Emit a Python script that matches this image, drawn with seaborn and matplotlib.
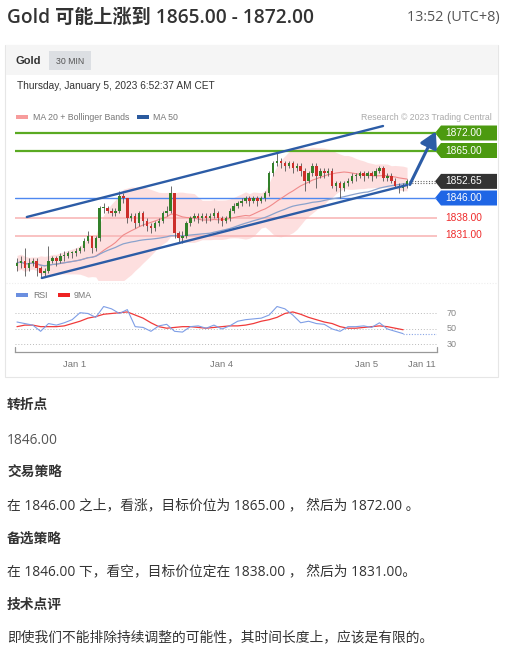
import numpy as np
import pandas as pd
import seaborn as sns
import matplotlib.pyplot as plt
from matplotlib.patches import Rectangle, Polygon
from matplotlib.transforms import blended_transform_factory

# ---------------- data ----------------
closes = [1820, 1821, 1818, 1820, 1821, 1818, 1816, 1817, 1821, 1822,
          1821, 1823, 1823, 1824, 1824, 1825, 1826, 1829, 1831, 1826,
          1830, 1842, 1842, 1841, 1840, 1841, 1847, 1846, 1838, 1839,
          1836, 1840, 1837, 1835, 1834, 1836, 1837, 1840, 1841, 1848,
          1832, 1830, 1831, 1836, 1838, 1839, 1838, 1839, 1838, 1839,
          1840, 1838, 1837, 1838, 1841, 1843, 1844, 1845, 1846, 1845,
          1846, 1845, 1846, 1848, 1856, 1860, 1861, 1860, 1859, 1860,
          1858, 1859, 1857, 1853, 1856, 1859, 1855, 1857, 1856, 1857,
          1851, 1852, 1850, 1852, 1853, 1855, 1855, 1856, 1855, 1856,
          1855, 1857, 1858, 1854, 1855, 1853, 1851, 1850, 1851, 1852.65]
first_open = 1819
highs = [1822, 1823, 1826, 1822, 1822, 1822, 1819, 1818, 1827, 1823,
         1823, 1824, 1825, 1825, 1825, 1826, 1827, 1830, 1833, 1831,
         1831, 1843, 1844, 1843, 1842, 1842, 1849, 1848, 1846, 1840,
         1840, 1841, 1841, 1838, 1836, 1837, 1838, 1841, 1843, 1851,
         1848, 1833, 1833, 1837, 1839, 1840, 1840, 1840, 1840, 1840,
         1842, 1841, 1839, 1839, 1842, 1844, 1845, 1846, 1847, 1847,
         1847, 1847, 1847, 1849, 1857, 1861, 1864, 1862, 1861, 1861,
         1861, 1860, 1860, 1858, 1857, 1860, 1860, 1858, 1858, 1858,
         1858, 1853, 1853, 1853, 1854, 1856, 1856, 1857, 1857, 1857,
         1857, 1858, 1859, 1859, 1856, 1856, 1854, 1852, 1852, 1853.5]
lows = [1817, 1818, 1815, 1817, 1819, 1815, 1814, 1815, 1816, 1820,
        1819, 1820, 1821, 1822, 1822, 1823, 1824, 1825, 1828, 1824,
        1825, 1829, 1840, 1840, 1839, 1839, 1840, 1844, 1836, 1837,
        1834, 1835, 1835, 1833, 1832, 1833, 1835, 1836, 1839, 1840,
        1830, 1828, 1828, 1830, 1835, 1837, 1836, 1837, 1836, 1837,
        1838, 1836, 1835, 1836, 1837, 1840, 1842, 1843, 1844, 1843,
        1844, 1843, 1844, 1845, 1847, 1855, 1859, 1858, 1857, 1858,
        1856, 1857, 1855, 1849, 1852, 1855, 1850, 1854, 1854, 1855,
        1850, 1849, 1846, 1849, 1851, 1852, 1853, 1854, 1853, 1854,
        1853, 1854, 1856, 1853, 1853, 1852, 1850, 1848, 1849, 1850]

rsi = [59, 57, 55, 47, 57, 55, 58, 62, 71, 70,
       65, 79, 76, 70, 75, 53, 52, 47, 54, 56,
       47, 46, 53, 54, 51, 55, 50, 54, 60, 62,
       63, 64, 68, 79, 76, 68, 58, 60, 57, 56,
       50, 47, 53, 53, 54, 52, 58, 50, 47, 44]
rsi_ma9 = [53, 55, 55, 53, 53, 53, 54, 57, 60, 64,
           66, 69, 70, 71, 72, 68, 64, 58, 53, 51,
           52, 53, 53, 52, 51, 52, 53, 54, 54, 55,
           57, 60, 62, 65, 70, 72, 69, 65, 62, 59,
           57, 53, 51, 51, 52, 53, 54, 53, 51, 49]

levels_green = [1872.00, 1865.00]
level_pivot = 1846.00
levels_red = [1838.00, 1831.00]
channel_upper = [(2.5, 1838.4), (92.9, 1874.8)]
channel_lower = [(6.3, 1814.0), (99.0, 1851.2)]
arrow_from = (99.7, 1851.4)
arrow_to = (106.3, 1872.6)

date_labels = ["Jan 1", "Jan 4", "Jan 5", "Jan 11"]
date_pos = [14.7, 52.0, 88.6, 102.8]
rsi_levels = [70, 50, 30]

df = pd.DataFrame({"close": closes, "high": highs, "low": lows})
df["open"] = [first_open] + closes[:-1]
df["idx"] = np.arange(len(df))
df["ma20"] = df["close"].rolling(20, min_periods=1).mean()
df["ma50"] = df["close"].rolling(50, min_periods=1).mean()
sd = df["close"].rolling(20, min_periods=3).std().bfill()
df["bb_up"] = df["ma20"] + 2 * sd
df["bb_lo"] = df["ma20"] - 2 * sd

rsi_df = pd.DataFrame({"idx": np.arange(0, len(df), 2), "rsi": rsi, "ma9": rsi_ma9})

# ---------------- figure ----------------
sns.set_theme(style="white")
plt.rcParams["font.family"] = ["Open Sans", "Noto Sans CJK SC", "DejaVu Sans"]

W, H = 519, 658
fig = plt.figure(figsize=(W / 100, H / 100), dpi=100)
fig.patch.set_facecolor("white")


def fx(px):
    return px / W


def fy(py):
    return 1 - py / H


def box(x0, y0, x1, y1, **kw):
    fig.patches.append(Rectangle((fx(x0), fy(y1)), fx(x1) - fx(x0), fy(y0) - fy(y1),
                                 transform=fig.transFigure, **kw))


# card
box(5, 45, 498, 377, facecolor="white", edgecolor="#e6e6e6", lw=0.8, zorder=0)
box(5.5, 45.5, 497.5, 75, facecolor="#f5f5f5", edgecolor="none", zorder=0)
box(49, 51, 91, 70, facecolor="#dcdfe3", edgecolor="none", zorder=1)

fig.text(fx(7), fy(18), "Gold 可能上涨到 1865.00 - 1872.00", fontsize=13.8,
         weight="semibold", color="#333333", va="center", ha="left")
fig.text(fx(500), fy(18), "13:52 (UTC+8)", fontsize=10.4, color="#555555",
         va="center", ha="right")
fig.text(fx(16), fy(61), "Gold", fontsize=8, weight="bold", color="#333333",
         va="center", family="Liberation Sans")
fig.text(fx(70), fy(61), "30 MIN", fontsize=6.3, color="#555555", va="center",
         ha="center", family="Liberation Sans")
fig.text(fx(17), fy(86), "Thursday, January 5, 2023 6:52:37 AM CET", fontsize=7.3,
         color="#333333", va="center", family="Liberation Sans")

# legends
box(16, 115, 28, 119, facecolor="#f79c9c", edgecolor="none", zorder=2)
fig.text(fx(33), fy(117), "MA 20 + Bollinger Bands", fontsize=6.3, color="#777777",
         va="center", family="Liberation Sans")
box(137, 115, 149, 119, facecolor="#2b5a9e", edgecolor="none", zorder=2)
fig.text(fx(153), fy(117), "MA 50", fontsize=6.3, color="#777777", va="center",
         family="Liberation Sans")
fig.text(fx(492), fy(117), "Research © 2023 Trading Central", fontsize=6.3,
         color="#aaaaaa", va="center", ha="right", family="Liberation Sans")
box(16, 293, 28, 297, facecolor="#6b8fe0", edgecolor="none", zorder=2)
fig.text(fx(33), fy(295), "RSI", fontsize=6.3, color="#777777", va="center",
         family="Liberation Sans")
box(58, 293, 70, 297, facecolor="#ee2222", edgecolor="none", zorder=2)
fig.text(fx(74), fy(295), "9MA", fontsize=6.3, color="#777777", va="center",
         family="Liberation Sans")

# ---------------- price panel ----------------
ax = fig.add_axes([fx(15), fy(280), fx(437) - fx(15), fy(120) - fy(280)])
ax.set_zorder(5)
ax.set_facecolor("none")
ax.set_xlim(-0.5, 106.6)
ax.set_ylim(1813.2, 1877.2)
ax.axis("off")

ax.fill_between(df["idx"], df["bb_lo"], df["bb_up"], color="#fdd5d5", alpha=0.75,
                lw=0, zorder=1)

for lv in levels_green:
    ax.axhline(lv, color="#5aaa22", lw=1.6, zorder=2)
ax.axhline(level_pivot, color="#4d88f0", lw=1.0, zorder=2)
for lv in levels_red:
    ax.axhline(lv, color="#f8b7b7", lw=1.2, zorder=2)

sns.lineplot(data=df, x="idx", y="ma20", ax=ax, color="#f08a8a", lw=0.8, zorder=3)
sns.lineplot(data=df, x="idx", y="ma50", ax=ax, color="#8aa2cc", lw=0.9, zorder=3)

up = df["close"] >= df["open"]
colors = np.where(up, "#33802a", "#cc2e2a")
ax.vlines(df["idx"], df["low"], df["high"], color="#555555", lw=0.6, zorder=4)
ax.bar(df["idx"], (df["close"] - df["open"]).abs().clip(lower=0.35),
       bottom=df[["open", "close"]].min(axis=1), width=0.62, color=colors,
       lw=0, zorder=5)

for seg in (channel_upper, channel_lower):
    ax.plot([seg[0][0], seg[1][0]], [seg[0][1], seg[1][1]], color="#2c5ca6",
            lw=1.7, zorder=6, solid_capstyle="round")

ax.annotate("", xy=arrow_to, xytext=arrow_from, annotation_clip=False,
            arrowprops=dict(arrowstyle="-|>,head_length=0.8,head_width=0.45",
                            color="#2c5ca6", lw=2.2, shrinkA=0, shrinkB=0),
            zorder=7)

last_close = closes[-1]
last_ma = df["ma50"].iloc[-1]
ax.hlines([last_close, last_ma], len(df) - 0.5, 106.6, colors="#666666",
          linestyles=(0, (1, 1.5)), lw=0.8, zorder=6)

# price tags
tr = blended_transform_factory(fig.transFigure, ax.transData)
tags = [(levels_green[0], "#4c9a10"), (levels_green[1], "#4c9a10"),
        (last_close, "#333333"), (level_pivot, "#1f66e5")]
half = 7.5 / 2.5
for val, col in tags:
    pts = [(fx(435), val), (fx(441), val + half), (fx(497), val + half),
           (fx(497), val - half), (fx(441), val - half)]
    fig.patches.append(Polygon(pts, closed=True, transform=tr, facecolor=col,
                               edgecolor="none", zorder=3))
    fig.text(fx(445), val, f"{val:.2f}", transform=tr, fontsize=7.3,
             color="white", va="center", family="Liberation Sans", zorder=4)
for val in levels_red:
    fig.text(fx(445), val, f"{val:.2f}", transform=tr, fontsize=7.3,
             color="#ee2b2b", va="center", family="Liberation Sans")

# separator between panels
fig.add_artist(plt.Line2D([fx(6), fx(497)], [fy(283), fy(283)],
                          transform=fig.transFigure, color="#eeeeee", lw=0.8,
                          linestyle=(0, (1, 1.5))))

# ---------------- RSI panel ----------------
ax2 = fig.add_axes([fx(15), fy(352), fx(437) - fx(15), fy(300) - fy(352)])
ax2.set_zorder(5)
ax2.set_facecolor("none")
ax2.set_xlim(-0.5, 106.6)
ax2.set_ylim(20.3, 87.4)
for s in ["top", "right", "left"]:
    ax2.spines[s].set_visible(False)
ax2.spines["bottom"].set_color("#999999")
ax2.spines["bottom"].set_linewidth(0.9)
for xe in (0, 1):
    ax2.plot([xe, xe], [0, 0.09], transform=ax2.transAxes, color="#999999",
             lw=0.9, clip_on=False)
for lv in rsi_levels:
    ax2.axhline(lv, color="#bbbbbb", lw=0.7, linestyle=(0, (1, 2)))
    ax2.text(fx(447), lv, str(lv), transform=blended_transform_factory(fig.transFigure, ax2.transData),
             fontsize=6.5, color="#888888", va="center", family="Liberation Sans")

sns.lineplot(data=rsi_df, x="idx", y="ma9", ax=ax2, color="#f03a3a", lw=0.9)
sns.lineplot(data=rsi_df, x="idx", y="rsi", ax=ax2, color="#7e9ee6", lw=0.8)
ax2.hlines(rsi[-1], rsi_df["idx"].iloc[-1], 106.6, colors="#8aa6e6",
           linestyles=(0, (1, 1.5)), lw=0.8)

ax2.set_xticks(date_pos)
ax2.set_xticklabels(date_labels, fontsize=6.8, color="#777777",
                    family="Liberation Sans")
ax2.tick_params(axis="x", length=0, pad=6)
ax2.set_yticks([])
ax2.set_xlabel("")
ax2.set_ylabel("")
ax.set_xlabel("")
ax.set_ylabel("")

# ---------------- text below ----------------
body = [
    (405, "转折点", True, "#333333"),
    (440, "1846.00", False, "#555555"),
    (473, "交易策略", True, "#333333"),
    (506, "在 1846.00 之上，看涨，目标价位为 1865.00 ， 然后为 1872.00 。", False, "#333333"),
    (539, "备选策略", True, "#333333"),
    (572, "在 1846.00 下，看空，目标价位定在 1838.00 ， 然后为 1831.00。", False, "#333333"),
    (605, "技术点评", True, "#333333"),
    (638, "即使我们不能排除持续调整的可能性，其时间长度上，应该是有限的。", False, "#333333"),
]
for py, txt, bold, col in body:
    fig.text(fx(7), fy(py), txt, fontsize=9.9, weight="bold" if bold else "normal",
             color=col, va="center", ha="left")

fig.savefig("out.png", dpi=100, facecolor="white")
